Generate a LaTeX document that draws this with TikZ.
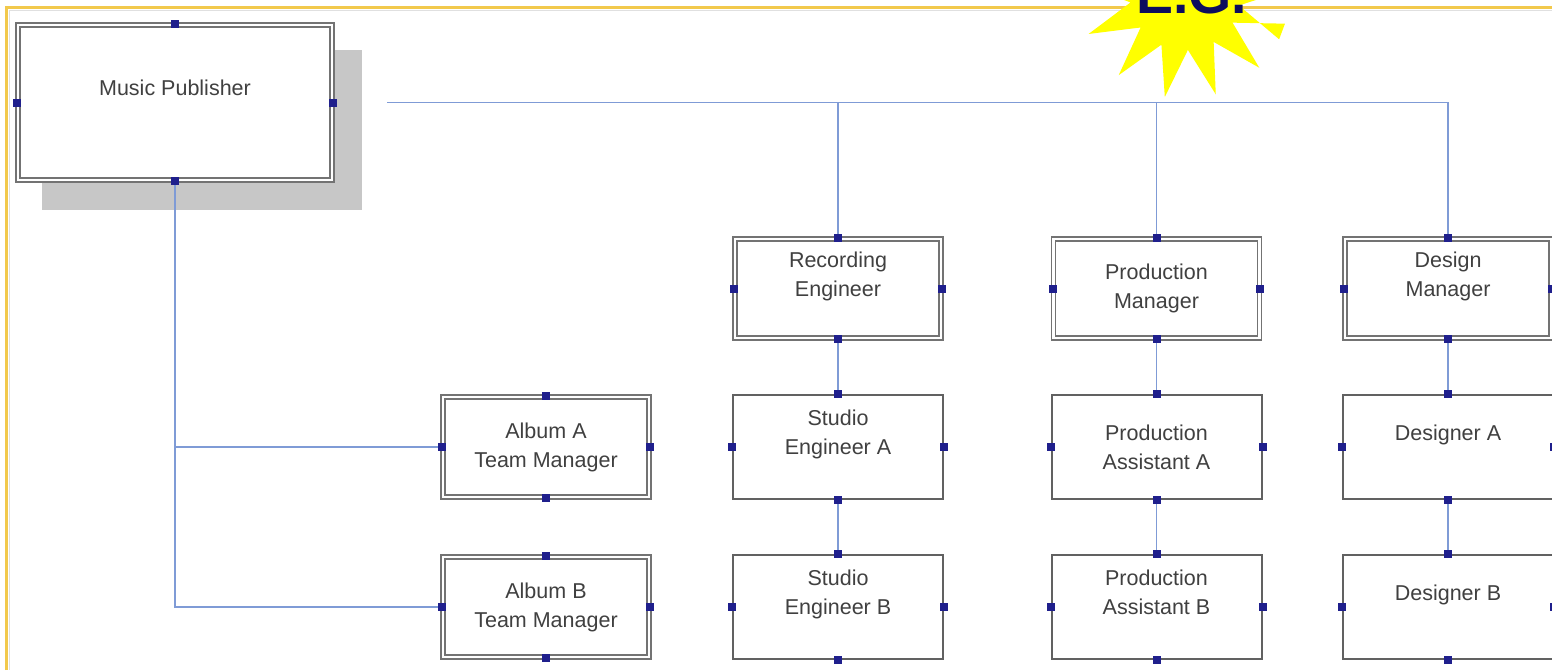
\documentclass[tikz,border=0pt]{standalone}
\usepackage{fontspec}
\usetikzlibrary{calc}
\setmainfont{Liberation Sans}
\definecolor{framegold}{HTML}{F2C94C}
\definecolor{connblue}{HTML}{7F9BD6}
\definecolor{handlenavy}{HTML}{1F1F8C}
\definecolor{egnavy}{HTML}{0D0D5E}
\definecolor{burst}{HTML}{FFFF00}
\begin{document}
\begin{tikzpicture}[x=1pt,y=-1pt,
  box/.style={draw=black!62, line width=2pt, fill=white, minimum width=210pt,
    minimum height=104pt, inner sep=0pt, align=center, text=black!75,
    font=\fontsize{21.5}{29}\selectfont},
  dbox/.style={box, draw=black!55, double=white, double distance=2.2pt, line width=1.8pt,
    minimum width=206pt, minimum height=100pt},
  conn/.style={draw=connblue, line width=1.4pt},
  handle/.style={fill=handlenavy},
  shadowbox/.style={fill=black!22}
]
\useasboundingbox (0,0) rectangle (1552,670);
\clip (0,0) rectangle (1552,670);

% frame
\draw[black!12, line width=1.5pt] (9.5,670) -- (9.5,10.5) -- (1552,10.5);
\draw[framegold, line width=3pt] (6,670) -- (6,7) -- (1552,7);

% shadow of the top box
\fill[shadowbox] (42,50) rectangle (362,210);

% boxes
\node[dbox, line width=2.3pt, minimum width=314pt, minimum height=155pt] (mp) at (175,102.5) {Music Publisher\\\mbox{}};

\node[dbox, minimum height=99pt] (re) at (838,288.5) {Recording\\Engineer\\\mbox{}};
\node[dbox, minimum height=99pt] (pm) at (1156.5,288.5) {Production\\Manager};
\node[dbox, minimum height=99pt] (dm) at (1448,288.5) {Design\\Manager\\\mbox{}};

\node[box] (sa) at (838,447) {Studio\\Engineer A\\\mbox{}};
\node[box] (pa) at (1156.5,447) {Production\\Assistant A};
\node[box] (da) at (1448,447) {Designer A\\\mbox{}};

\node[box] (sb) at (838,607) {Studio\\Engineer B\\\mbox{}};
\node[box] (pb) at (1156.5,607) {Production\\Assistant B\\\mbox{}};
\node[box] (db) at (1448,607) {Designer B\\\mbox{}};

\node[dbox] (aa) at (546,447) {Album A\\Team Manager};
\node[dbox] (ab) at (546,607) {Album B\\Team Manager};

% connectors
\coordinate (hs) at (387,102.5);
\draw[conn] (hs) -| (dm.north);
\draw[conn] (hs -| re.north) -- (re.north);
\draw[conn] (hs -| pm.north) -- (pm.north);
\draw[conn] (mp.south) |- (ab.west);
\draw[conn] (mp.south |- aa.west) -- (aa.west);
\draw[conn] (re.south) -- (sa.north);
\draw[conn] (sa.south) -- (sb.north);
\draw[conn] (pm.south) -- (pa.north);
\draw[conn] (pa.south) -- (pb.north);
\draw[conn] (dm.south) -- (da.north);
\draw[conn] (da.south) -- (db.north);

% handles
\foreach \n in {mp,re,pm,dm,sa,pa,da,sb,pb,db,aa,ab}
  \foreach \a in {north,south,east,west}
    \fill[handle] (\n.\a) +(-4,-4) rectangle +(4,4);

% starburst
\coordinate (bc) at (1185,-5);
\fill[burst] ($(bc)+(16:104)$)
  \foreach \k in {0,...,12} {
    -- ($(bc)+({30.2+28.4*\k}:55)$)
    -- ($(bc)+({44.4+28.4*\k}:104)$)
  } -- cycle;
\node[anchor=base, text=egnavy, font=\bfseries\fontsize{55.5}{60}\selectfont, inner sep=0pt] (eg) at (1191.5,13) {E.G.};
\end{tikzpicture}
\end{document}
